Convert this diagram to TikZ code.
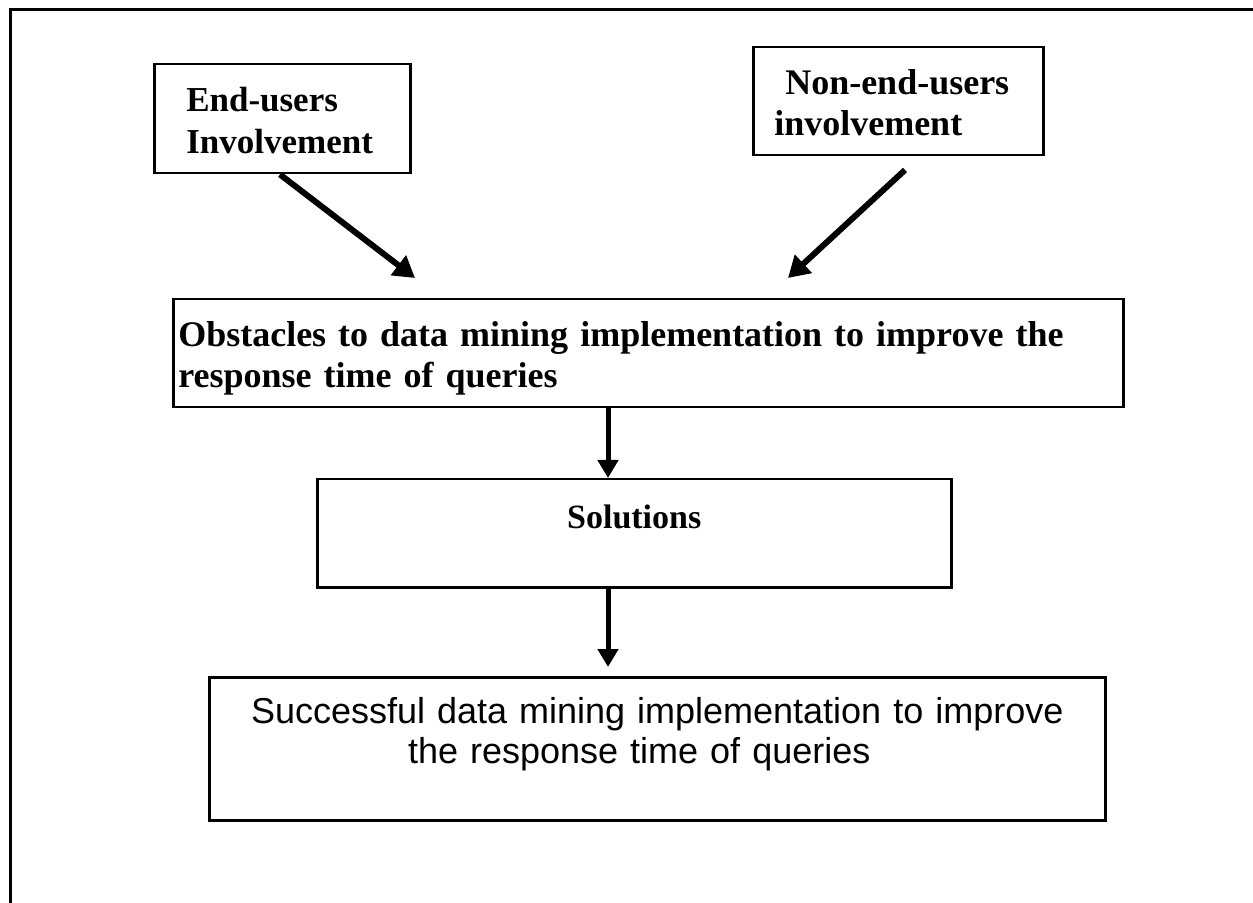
\documentclass[tikz,border=0pt]{standalone}
\usepackage{fontspec}
\setmainfont{Liberation Serif}
\newfontfamily\arialfont{Liberation Sans}
\usetikzlibrary{arrows.meta}

\begin{document}
\begin{tikzpicture}[x=0.5pt,y=-0.5pt,
  box/.style={draw,line width=1.25pt,anchor=north west,inner ysep=0pt,
    font=\fontsize{18pt}{20.5pt}\selectfont\bfseries},
  flow/.style={line width=2.5pt,-{Triangle[width=10pt,length=9pt]}},
  slant/.style={line width=3pt,-{Triangle[width=12pt,length=10.5pt]}}]
\useasboundingbox (0,0) rectangle (1253,903);

% page frame (only top and left edges show)
\draw[line width=1.5pt] (10,903) -- (10,10) -- (1253,10);

\node[box,align=left,text width=96pt,inner xsep=16pt,text height=23.5pt,text depth=31pt,
  font=\fontsize{17.5pt}{21pt}\selectfont\bfseries]
  (end) at (153,63) {End-users\\Involvement};
\node[box,align=left,text width=124pt,inner xsep=10.5pt,text height=23.5pt,text depth=30.5pt]
  (nonend) at (752,46) {\hspace*{5.5pt}Non-end-users\\involvement};
\node[box,align=left,text width=470pt,inner xsep=2.5pt,text height=23.5pt,text depth=30.5pt]
  (obst) at (172,298) {Obstacles to data mining implementation to improve the\\response time of queries};
\node[box,align=center,text width=317pt,inner xsep=0pt,text height=24.5pt,text depth=29.5pt,
  font=\fontsize{17pt}{20pt}\selectfont\bfseries]
  (sol) at (316,478) {Solutions};
\node[box,align=center,text width=448pt,inner xsep=0pt,text height=23pt,text depth=48.5pt,
  font=\fontsize{18pt}{20pt}\selectfont\arialfont]
  (succ) at (208,676) {Successful data mining implementation to improve\\the response time of queries\rule{18pt}{0pt}};

\coordinate (s1) at (280,172);
\coordinate (t1) at (415,278);
\coordinate (s2) at (905,170);
\coordinate (t2) at (788,278);
\coordinate (axis) at (608,0);

\draw[slant] (end.south -| s1) -- (t1);
\draw[slant] (s2) -- (t2);
\draw[flow] (obst.south -| axis) -- (sol.north -| axis);
\draw[flow,shorten >=4.5pt] (sol.south -| axis) -- (succ.north -| axis);
\end{tikzpicture}
\end{document}
